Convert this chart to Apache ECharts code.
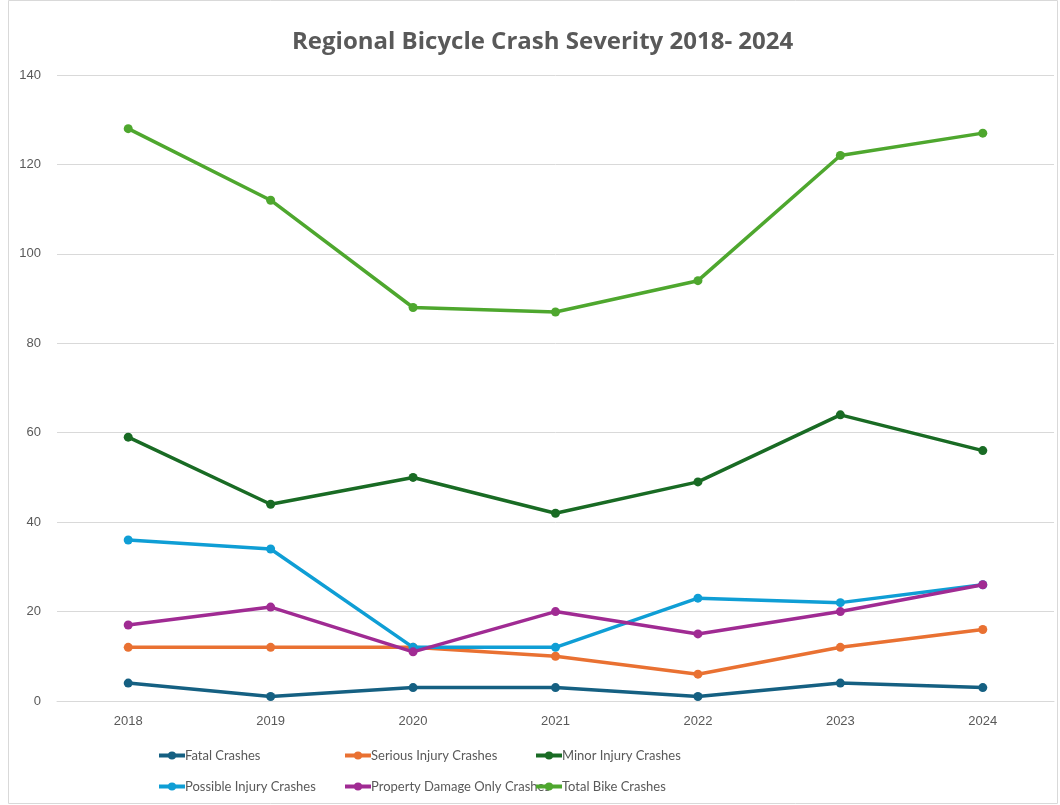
<!DOCTYPE html>
<html>
<head>
<meta charset="utf-8">
<title>Regional Bicycle Crash Severity</title>
<script src="https://cdn.jsdelivr.net/npm/echarts@6/dist/echarts.min.js"></script>
<style>
    html, body { margin: 0; padding: 0; background: #fff; }
    #chart { width: 1060px; height: 805px; }
</style>
</head>
<body>
<div id="chart"></div>
<script>
// chart data
const years = ["2018", "2019", "2020", "2021", "2022", "2023", "2024"];
const fatal = [4, 1, 3, 3, 1, 4, 3];
const serious = [12, 12, 12, 10, 6, 12, 16];
const minor = [59, 44, 50, 42, 49, 64, 56];
const possible = [36, 34, 12, 12, 23, 22, 26];
const propertyDamage = [17, 21, 11, 20, 15, 20, 26];
const total = [128, 112, 88, 87, 94, 122, 127];

const seriesNames = [
    "Fatal Crashes",
    "Serious Injury Crashes",
    "Minor Injury Crashes",
    "Possible Injury Crashes",
    "Property Damage Only Crashes",
    "Total Bike Crashes",
];
const seriesData = [fatal, serious, minor, possible, propertyDamage, total];
const colors = ["#156082", "#e97132", "#196b24", "#0f9ed5", "#a02b93", "#4ea72e"];

// legend slots: 3 columns x 2 rows
const legendLeft = [157, 343, 534];
const legendTop = [749, 780];

const chart = echarts.init(document.getElementById("chart"));

const legends = seriesNames.map((name, i) => ({
    data: [name],
    left: legendLeft[i % 3],
    top: legendTop[Math.floor(i / 3)],
    padding: 0,
    itemWidth: 26,
    itemHeight: 10,
    itemGap: 0,
    selectedMode: false,
    lineStyle: { width: 4 },
    textStyle: {
        color: "#595959",
        fontSize: 13,
        fontFamily: "Lato",
        padding: [0, 0, 0, -5],
    },
}));

const options = {
    animation: false,
    color: colors,
    title: {
        text: "Regional Bicycle Crash Severity 2018- 2024",
        left: 287,
        top: 25,
        textStyle: {
            color: "#595959",
            fontSize: 24,
            fontWeight: "bold",
            fontFamily: "Open Sans",
        },
    },
    legend: legends,
    grid: {
        left: 57,
        right: 6,
        top: 75,
        bottom: 104,
    },
    xAxis: {
        type: "category",
        data: years,
        axisLine: { show: true, lineStyle: { color: "#d9d9d9" } },
        axisTick: { show: false },
        axisLabel: {
            color: "#595959",
            fontSize: 13,
            fontFamily: "Liberation Sans",
            margin: 14,
        },
    },
    yAxis: {
        type: "value",
        min: 0,
        max: 140,
        interval: 20,
        axisLine: { show: false },
        axisTick: { show: false },
        splitLine: { lineStyle: { color: "#d9d9d9" } },
        axisLabel: {
            color: "#595959",
            fontSize: 13,
            fontFamily: "Liberation Sans",
            margin: 16,
        },
    },
    series: seriesNames.map((name, i) => ({
        name: name,
        type: "line",
        data: seriesData[i],
        symbol: "circle",
        symbolSize: 9,
        lineStyle: { width: 3.5, color: colors[i] },
        itemStyle: { color: colors[i] },
        z: 2 + i,
    })),
    graphic: [
        {
            type: "rect",
            shape: { x: 8.5, y: 0.5, width: 1049, height: 803 },
            style: { fill: "none", stroke: "#d9d9d9", lineWidth: 1 },
            silent: true,
        },
    ],
};

chart.setOption(options);
</script>
</body>
</html>
